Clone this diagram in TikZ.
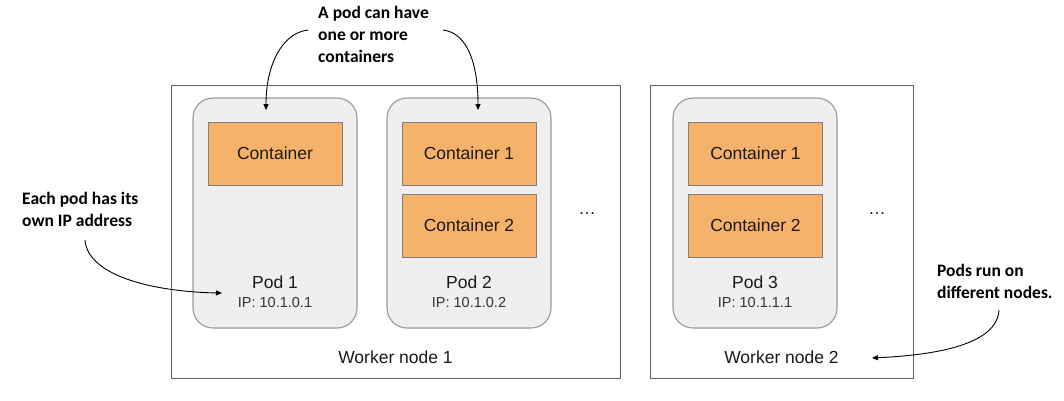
\documentclass[tikz,border=0pt]{standalone}
\usepackage{fontspec}
\setmainfont{Liberation Sans}
\newfontfamily\annfont{Carlito}
\usetikzlibrary{arrows.meta}
\definecolor{orangebox}{HTML}{F6B26B}
\definecolor{boxedge}{HTML}{7F7F7F}
\definecolor{podfill}{HTML}{EFEFEF}
\definecolor{podedge}{HTML}{999999}
\definecolor{workeredge}{HTML}{5F5F5F}
\definecolor{txt}{HTML}{1A1A1A}
\definecolor{iptxt}{HTML}{333333}
\begin{document}
\begin{tikzpicture}[x=1pt,y=-1pt,
  worker/.style={draw=workeredge,line width=0.8pt,fill=white,inner sep=0pt},
  pod/.style={draw=podedge,line width=1.1pt,fill=podfill,rounded corners=20pt,inner sep=0pt,minimum width=164pt,minimum height=230pt},
  cont/.style={draw=boxedge,line width=1pt,fill=orangebox,inner sep=0pt,minimum width=134pt,minimum height=63pt,font=\fontsize{17.5}{21}\selectfont,text=txt},
  podlbl/.style={anchor=base,inner sep=0pt,font=\fontsize{17.5}{21}\selectfont,text=txt},
  iplbl/.style={anchor=base,inner sep=0pt,font=\fontsize{14.5}{17}\selectfont,text=iptxt},
  dotlbl/.style={inner sep=0pt,font=\fontsize{17.5}{21}\selectfont,text=txt},
  ann/.style={anchor=north west,inner sep=0pt,align=left,font=\annfont\bfseries\fontsize{17.5}{22}\selectfont,text=black},
  callout/.style={draw=black,line width=0.9pt,-{Triangle[length=6pt,width=5pt]}}
]
\useasboundingbox[fill=white] (0,0) rectangle (1064,400);

% worker nodes
\node[worker,minimum width=449pt,minimum height=293pt] (wn1) at (395.5,231.5) {};
\node[worker,minimum width=263pt,minimum height=293pt] (wn2) at (781.5,231.5) {};

% pods
\node[pod] (pod1) at (275,213) {};
\node[pod] (pod2) at (469,213) {};
\node[pod] (pod3) at (755,213) {};

% containers
\node[cont] (c1) at (275,153.5) {Container};
\node[cont] (c21) at (469,153.5) {Container 1};
\node[cont] (c22) at (469,225.5) {Container 2};
\node[cont] (c31) at (755.5,153.5) {Container 1};
\node[cont] (c32) at (755.5,225.5) {Container 2};

% pod labels
\node[podlbl] (p1l) at (275,288) {Pod 1};
\node[iplbl] (p1ip) at (275,307) {IP: 10.1.0.1};
\node[podlbl] (p2l) at (469,288) {Pod 2};
\node[iplbl] (p2ip) at (469,307) {IP: 10.1.0.2};
\node[podlbl] (p3l) at (755,288) {Pod 3};
\node[iplbl] (p3ip) at (755,307) {IP: 10.1.1.1};

% dots
\node[dotlbl] (d1) at (587,214) {\dots};
\node[dotlbl] (d2) at (877,214) {\dots};

% worker labels
\node[podlbl] (wn1l) at (395.5,363) {Worker node 1};
\node[podlbl] (wn2l) at (781.5,363) {Worker node 2};

% annotations
\node[ann] (annA) at (318,6) {A pod can have\\one or more\\containers};
\node[ann] (annB) at (22,192) {Each pod has its\\own IP address};
\node[ann] (annC) at (937,264) {Pods run on\\different nodes.};

% callout ends
\coordinate (a1s) at (308,30);
\coordinate (a1e) at (266,110);
\coordinate (a2s) at (443,30);
\coordinate (a2e) at (478,110);
\coordinate (a3s) at (85,240);
\coordinate (a3e) at (222,293);
\coordinate (a4s) at (999,310);
\coordinate (a4e) at (872,358);

\draw[callout] (a1s) .. controls (282,33) and (266,65) .. (a1e);
\draw[callout] (a2s) .. controls (468,33) and (478,65) .. (a2e);
\draw[callout] (a3s) .. controls (88,278) and (160,292) .. (a3e);
\draw[callout] (a4s) .. controls (997,345) and (935,355) .. (a4e);
\end{tikzpicture}
\end{document}
